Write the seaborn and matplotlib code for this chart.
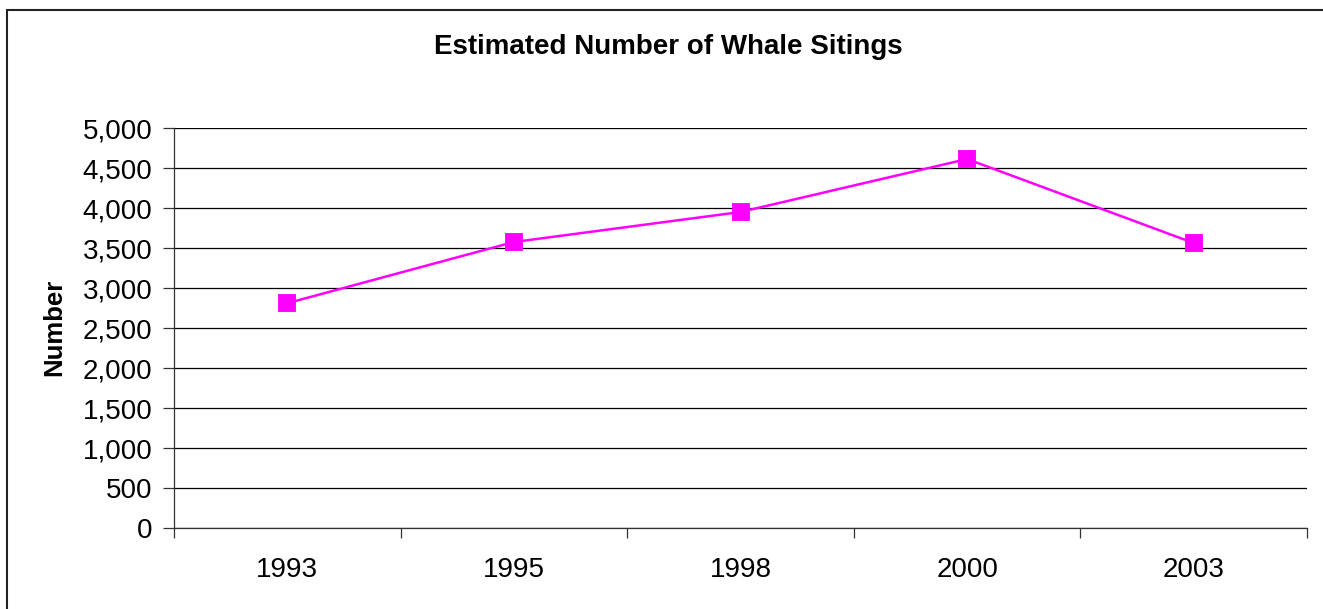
import matplotlib
matplotlib.use("Agg")
import matplotlib.pyplot as plt
from matplotlib.patches import Rectangle
from matplotlib.ticker import FixedLocator, FuncFormatter
import seaborn as sns
import pandas as pd

years = ["1993", "1995", "1998", "2000", "2003"]
sightings = [2810, 3575, 3950, 4612, 3562]
y_ticks = [0, 500, 1000, 1500, 2000, 2500, 3000, 3500, 4000, 4500, 5000]

sns.set_theme(style="white")
plt.rcParams["font.family"] = ["Liberation Sans", "DejaVu Sans"]

W, H, DPI = 1323, 609, 100
fig = plt.figure(figsize=(W / DPI, H / DPI), dpi=DPI)
ax = fig.add_axes([174 / W, (H - 528) / H, (1307 - 174) / W, 400 / H])

df = pd.DataFrame({"year": years, "count": sightings})
sns.pointplot(data=df, x="year", y="count", order=years, ax=ax,
              color="#FF00FF", markers="s", linestyles="-",
              markersize=11, linewidth=1.8, errorbar=None)

ax.set_xlim(-0.5, len(years) - 0.5)
ax.set_ylim(0, 5000)
ax.yaxis.set_major_locator(FixedLocator(y_ticks))
ax.yaxis.set_major_formatter(FuncFormatter(lambda v, p: f"{int(v):,}"))
ax.grid(axis="y", color="black", linewidth=0.9)
ax.grid(axis="x", visible=False)
ax.set_axisbelow(True)

# category boundary tick marks on the x axis
ax.set_xticks([i - 0.5 for i in range(len(years) + 1)], minor=True)
ax.tick_params(axis="x", which="minor", length=7, width=0.9, color="#333333",
               direction="out", bottom=True)
ax.tick_params(axis="x", which="major", length=0, pad=21, labelsize=20,
               labelcolor="black")
ax.tick_params(axis="y", which="major", length=8, width=0.9, color="#333333",
               direction="out", left=True, pad=7.5, labelsize=20,
               labelcolor="black")

for side in ("top", "right"):
    ax.spines[side].set_visible(False)
for side in ("left", "bottom"):
    ax.spines[side].set_color("#333333")
    ax.spines[side].set_linewidth(0.9)

ax.set_xlabel("")
ax.set_ylabel("")
fig.text(54 / W, (H - 327) / H, "Number", rotation=90,
         ha="center", va="center", fontsize=18.5, fontweight="bold",
         color="black")

fig.text(668 / W, (H - 47) / H, "Estimated Number of Whale Sitings",
         ha="center", va="center", fontsize=20, fontweight="bold",
         color="black")

# chart-area border running off the right and bottom edges
fig.patches.append(Rectangle((7 / W, -0.2), 2.0, (H - 10) / H + 0.2,
                             transform=fig.transFigure, fill=False,
                             edgecolor="#222222", linewidth=1.5))

fig.savefig("out.png", dpi=DPI, facecolor="white")
